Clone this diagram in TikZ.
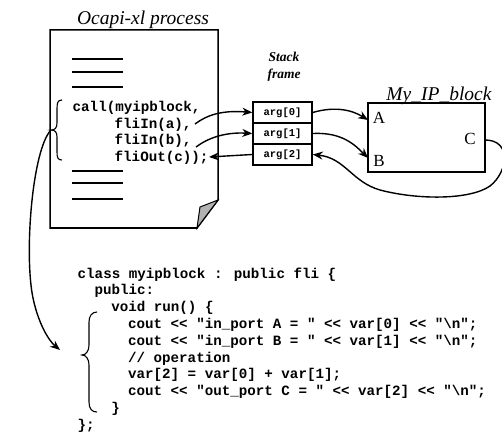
\documentclass[tikz,border=0pt]{standalone}
\usepackage{fontspec}
\setmainfont{Liberation Serif}
\newfontfamily\codef{Liberation Mono}
\usetikzlibrary{arrows.meta}
\begin{document}
\begin{tikzpicture}[x=1pt,y=-1pt,
  line width=1.4pt,
  arr/.style={-{Stealth[length=10pt,width=8pt]}},
  code/.style={font=\codef\bfseries\fontsize{14.2}{16}\selectfont, anchor=base west, inner sep=0pt},
  small/.style={font=\codef\bfseries\fontsize{10.5}{12}\selectfont},
  ttl/.style={font=\itshape\fontsize{19.5}{22}\selectfont, anchor=base, inner sep=0pt},
  port/.style={font=\fontsize{17}{19}\selectfont, anchor=base, inner sep=0pt},
  cell/.style={draw, line width=1.5pt, minimum width=59pt, minimum height=21pt, inner sep=0pt, small}]
\useasboundingbox (0,0) rectangle (502,435);
% document
\draw[line width=1.5pt] (50,30) -- (218,30) -- (218,200) -- (197,228) -- (50,228) -- cycle;
\filldraw[fill=gray!60, line width=1pt] (218,200) -- (197,228) -- (200,207) -- cycle;
\node[ttl] (otitle) at (143,25) {Ocapi-xl process};
\foreach \yy in {59,72,87,171,183,199} \draw (72,\yy) -- (123,\yy);
\node[code] (c1) at (72,112) {call(myipblock,};
\node[code] (c2) at (114,128.5) {fliIn(a),};
\node[code] (c3) at (114,145) {fliIn(b),};
\node[code] (c4) at (114,161.5) {fliOut(c));};
% upper brace
\draw[line width=1.1pt] (62,100) .. controls (57,100) and (57,104) .. (57,110) -- (57,123) .. controls (57,128) and (55,130) .. (51,130) .. controls (55,130) and (57,132) .. (57,137) -- (57,152) .. controls (57,158) and (58,160) .. (62,160);
\coordinate (btip) at (51,130);
% stack frame
\node[font=\bfseries\itshape\fontsize{13.5}{16}\selectfont, align=center, inner sep=0pt, anchor=base] (sf) at (284,79) {Stack\\[1pt]frame};
\node[cell] (s0) at (282.5,112.5) {arg[0]};
\node[cell] (s1) at (282.5,133.5) {arg[1]};
\node[cell] (s2) at (282.5,154.5) {arg[2]};
% IP block
\node[draw, line width=1.5pt, minimum width=117pt, minimum height=69pt, inner sep=0pt] (ip) at (426.5,137.5) {};
\node[ttl] (iptitle) at (439,101) {My\_IP\_block};
\node[port] (pa) at (379,124) {A};
\node[port] (pb) at (379,167) {B};
\node[port] (pc) at (470,145) {C};
\coordinate (inA) at (368,120);
\coordinate (inB) at (368,158);
\coordinate (outC) at (485,140);
% connectors code -> stack
\coordinate (a1) at (195,124);
\coordinate (a2) at (196,147);
\coordinate (a3) at (209,157);
\draw[arr] (a1) .. controls (207,115) and (222,110) .. (s0.west);
\draw[arr] (a2) .. controls (208,138) and (225,132) .. (s1.west);
\draw[arr] (s2.west) -- (a3);
% stack -> ip
\draw[arr] (s0.east) .. controls (335,106) and (352,110) .. (inA);
\draw[arr] (s1.east) .. controls (342,132) and (355,145) .. (inB);
\draw[arr] (outC) .. controls (512,140) and (508,172) .. (490,186) .. controls (470,200) and (418,200) .. (380,190) .. controls (352,182) and (345,158) .. (s2.east);
% lower code
\node[code] (l1) at (77,278) {class myipblock : public fli \{};
\node[code] (l2) at (93.8,294.8) {public:};
\node[code] (l3) at (110.6,311.6) {void run() \{};
\node[code] (l4) at (127.4,328.4) {cout << "in\_port A = " << var[0] << "\textbackslash n";};
\node[code] (l5) at (127.4,345.2) {cout << "in\_port B = " << var[1] << "\textbackslash n";};
\node[code] (l6) at (127.4,362) {// operation};
\node[code] (l7) at (127.4,378.8) {var[2] = var[0] + var[1];};
\node[code] (l8) at (127.4,395.6) {cout << "out\_port C = " << var[2] << "\textbackslash n";};
\node[code] (l9) at (110.6,412.4) {\}};
\node[code] (l10) at (77,429.2) {\};};
% lower brace
\draw[line width=1.1pt] (97,312) .. controls (92,312) and (89,316) .. (89,322) -- (89,345) .. controls (89,351) and (86,355) .. (82,355) .. controls (86,355) and (89,359) .. (89,365) -- (89,402) .. controls (89,409) and (92,412) .. (97,412);
\coordinate (ltgt) at (60,350);
\draw[arr] (btip) .. controls (32,150) and (24,255) .. (33,298) .. controls (38,322) and (48,340) .. (ltgt);
\end{tikzpicture}
\end{document}
